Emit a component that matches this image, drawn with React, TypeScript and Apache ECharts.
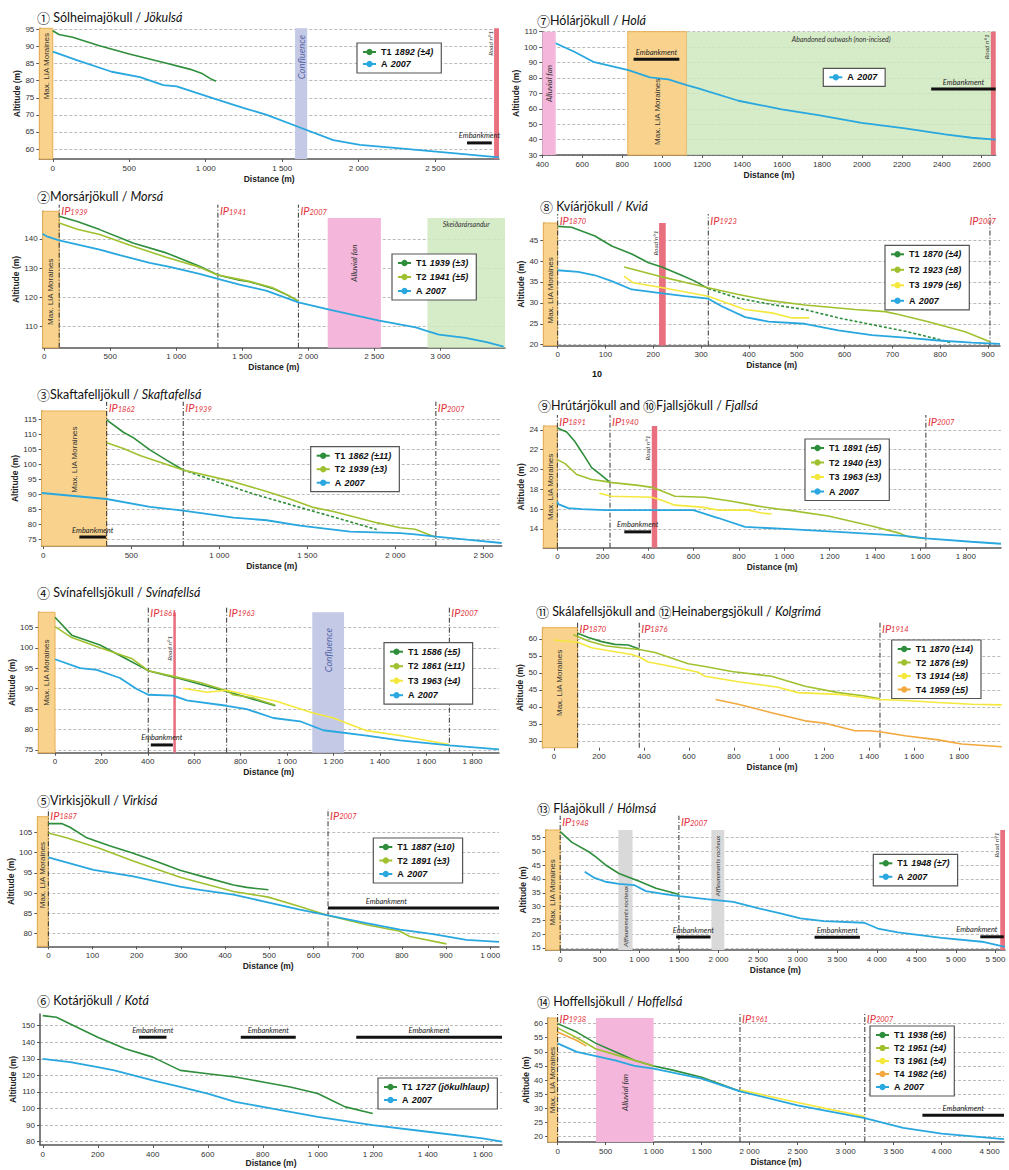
import React, { useEffect, useRef } from "react";
import * as echarts from "echarts";

type Pt = [number, number];
type Band = { kind: string; from: number; to: number; text?: string; top?: number };
type Emb = [number, number, number, number?];
type IP = [number, string];

const COL = { T1: "#2E8E3B", T2: "#A0C12F", T3: "#F5E83C", T4: "#F2A83C", A: "#29A7DF" };

// ---------------- Panel 1 : Sólheimajökull
const p1Title = [["c", "①"], ["t", " Sólheimajökull / "], ["i", "Jökulsá"]];
const p1X = [0, 500, 1000, 1500, 2000, 2500];
const p1Y = [60, 65, 70, 75, 80, 85, 90, 95];
const p1T1: Pt[] = [[0, 94.6], [40, 93.5], [130, 92.7], [300, 90.3], [500, 87.8], [750, 85], [900, 83.3], [980, 82], [1030, 80.6], [1067, 79.8]];
const p1A: Pt[] = [[0, 88.5], [157, 86], [385, 82.6], [570, 81], [723, 78.7], [810, 78.3], [1050, 74.8], [1250, 72], [1399, 70], [1616, 66.3], [1834, 62.6], [2008, 61.2], [2269, 60.2], [2597, 58.9], [2917, 57.6]];
const p1Bands: Band[] = [
  { kind: "lia", from: -88, to: 0, text: "Max. LIA Moraines" },
  { kind: "conf", from: 1584, to: 1663, text: "Confluence" },
  { kind: "road", from: 2885, to: 2917 },
];
const p1Emb: Emb[] = [[2708, 2870, 61.8]];

// ---------------- Panel 2 : Morsárjökull
const p2Title = [["c", "②"], ["t", "Morsárjökull / "], ["i", "Morsá"]];
const p2X = [0, 500, 1000, 1500, 2000, 2500, 3000, 3500];
const p2Y = [110, 120, 130, 140];
const p2T1: Pt[] = [[113, 147.8], [250, 146], [420, 143.2], [672, 138.6], [924, 135.2], [1176, 130.6], [1315, 127.6], [1479, 125.8], [1554, 125.3], [1730, 123], [1850, 120.5], [1925, 118.6]];
const p2T2: Pt[] = [[113, 145.5], [250, 143.3], [420, 141.5], [672, 137.5], [924, 133.7], [1176, 130.3], [1315, 127.6], [1479, 126.1], [1554, 125.4], [1730, 123.2], [1850, 120.6], [1925, 118.6]];
const p2A: Pt[] = [[-12, 141.7], [18, 140.9], [113, 139.5], [420, 136.3], [572, 134.4], [798, 131.8], [950, 130.4], [1176, 128], [1315, 126.3], [1479, 124.3], [1680, 122.2], [1925, 118.2], [2184, 115.4], [2537, 111.9], [2814, 109.6], [2902, 108.3], [2990, 107.1], [3191, 106], [3350, 104.5], [3480, 103]];
const p2Bands: Band[] = [
  { kind: "lia", from: -12, to: 113, text: "Max. LIA Moraines" },
  { kind: "pink", from: 2147, to: 2550, text: "Alluvial fan", top: 147.2 },
  { kind: "green", from: 2903, to: 3490, text: "Skeiðarársandur", top: 147.2 },
];
const p2IP: IP[] = [[113, "1939"], [1315, "1941"], [1925, "2007"]];

// ---------------- Panel 3 : Skaftafellsjökull
const p3Title = [["c", "③"], ["t", "Skaftafelljökull / "], ["i", "Skaftafellsá"]];
const p3X = [0, 500, 1000, 1500, 2000, 2500];
const p3Y = [75, 80, 85, 90, 95, 100, 105, 110, 115];
const p3T1: Pt[] = [[360, 114.8], [455, 110.7], [511, 108.9], [606, 104.8], [700, 101.4], [795, 98.1]];
const p3T1d: Pt[] = [[795, 98.1], [985, 94.2], [1193, 90.1], [1458, 85.6], [1648, 82.4], [1894, 78.2]];
const p3T2: Pt[] = [[360, 107.2], [455, 105.3], [549, 102.9], [795, 98.1], [1080, 94.2], [1269, 90.9], [1402, 88.4], [1534, 85.6], [1648, 84.2], [1894, 80.5], [2027, 78.8], [2112, 78.3], [2230, 75.6]];
const p3A: Pt[] = [[-9, 90.4], [360, 88.4], [606, 85.8], [795, 84.5], [1080, 82.2], [1269, 81.3], [1458, 79.5], [1648, 78.2], [1742, 77.5], [2027, 77], [2112, 76.6], [2230, 75.8], [2406, 74.8], [2604, 73.7]];
const p3Bands: Band[] = [{ kind: "lia", from: -9, to: 360, text: "Max. LIA Moraines" }];
const p3IP: IP[] = [[360, "1862"], [795, "1939"], [2230, "2007"]];
const p3Emb: Emb[] = [[205, 356, 75.7]];

// ---------------- Panel 4 : Svínafellsjökull
const p4Title = [["c", "④"], ["t", " Svínafellsjökull / "], ["i", "Svínafellsá"]];
const p4X = [0, 200, 400, 600, 800, 1000, 1200, 1400, 1600, 1800];
const p4Y = [75, 80, 85, 90, 95, 100, 105];
const p4T1: Pt[] = [[0, 107.5], [72, 103.1], [194, 100.7], [300, 97.5], [402, 94.4], [520, 92.7], [740, 89.3], [800, 88.3], [950, 85.8]];
const p4T2: Pt[] = [[0, 105.2], [72, 102.5], [194, 100], [330, 97.4], [402, 94.4], [510, 93], [625, 91.5], [740, 89.5], [768, 88.5], [855, 87.7], [948, 86]];
const p4T3: Pt[] = [[553, 90.1], [654, 89.1], [740, 89.6], [955, 86.9], [1109, 84.1], [1200, 82.8], [1343, 79.7], [1487, 78.5], [1602, 77.3], [1700, 76.3]];
const p4A: Pt[] = [[0, 97.2], [108, 95], [180, 94.6], [280, 92.6], [352, 89.9], [402, 88.5], [510, 88.3], [568, 87.1], [740, 85.8], [826, 85], [941, 82.8], [1056, 82], [1157, 79.8], [1343, 78.5], [1487, 77.3], [1700, 76.1], [1914, 75.1]];
const p4Bands: Band[] = [
  { kind: "lia", from: -72, to: 0, text: "Max. LIA Moraines" },
  { kind: "conf", from: 1109, to: 1246, text: "Confluence" },
  { kind: "road", from: 510, to: 521 },
];
const p4IP: IP[] = [[402, "1861"], [740, "1963"], [1700, "2007"]];
const p4Emb: Emb[] = [[413, 508, 76.2]];

// ---------------- Panel 5 : Virkisjökull
const p5Title = [["c", "⑤"], ["t", "Virkisjökull / "], ["i", "Virkisá"]];
const p5X = [0, 100, 200, 300, 400, 500, 600, 700, 800, 900, 1000];
const p5Y = [80, 85, 90, 95, 100, 105];
const p5T1: Pt[] = [[0, 107.1], [30, 107.1], [49, 106.2], [87, 103.6], [140, 101.6], [192, 99.8], [245, 97.8], [298, 95.6], [358, 93.8], [419, 92], [449, 91.4], [498, 90.8]];
const p5T2: Pt[] = [[0, 104.8], [41, 103.6], [117, 101], [192, 97.9], [298, 93.9], [419, 90.4], [498, 89], [569, 86.7], [633, 84.5], [720, 82.2], [796, 80.6], [818, 79.3], [901, 77.5]];
const p5A: Pt[] = [[0, 98.8], [102, 95.7], [192, 94.1], [298, 91.6], [343, 90.8], [419, 89.6], [494, 87.8], [569, 85.9], [633, 84.5], [720, 82.6], [796, 81], [871, 79.9], [946, 78.5], [1020, 78]];
const p5Bands: Band[] = [{ kind: "lia", from: -25, to: 0, text: "Max. LIA Moraines" }];
const p5IP: IP[] = [[0, "1887"], [633, "2007"]];
const p5Emb: Emb[] = [[633, 1020, 86.3, 765]];

// ---------------- Panel 6 : Kotárjökull
const p6Title = [["c", "⑥"], ["t", " Kotárjökull / "], ["i", "Kotá"]];
const p6X = [0, 200, 400, 600, 800, 1000, 1200, 1400, 1600];
const p6Y = [80, 90, 100, 110, 120, 130, 140, 150];
const p6T1: Pt[] = [[0, 156], [50, 155], [100, 151], [200, 143], [300, 136], [400, 131], [500, 123], [600, 121], [700, 119], [800, 116], [900, 113], [1000, 109], [1050, 105], [1100, 101], [1200, 97]];
const p6A: Pt[] = [[0, 130], [100, 128], [200, 125], [260, 123], [400, 117], [500, 113], [600, 109], [700, 104], [800, 101], [900, 98], [1000, 95], [1200, 90], [1400, 86], [1600, 82], [1670, 80]];
const p6Emb: Emb[] = [[350, 450, 143], [720, 920, 143], [1140, 1670, 143]];

// ---------------- Panel 7 : Hólárjökull
const p7Title = [["c", "⑦"], ["t", "Hólárjökull / "], ["i", "Holá"]];
const p7X = [400, 600, 800, 1000, 1200, 1400, 1600, 1800, 2000, 2200, 2400, 2600];
const p7Y = [30, 40, 50, 60, 70, 80, 90, 100, 110];
const p7A: Pt[] = [[467, 102.5], [560, 97], [655, 90.5], [831, 85.1], [939, 80.4], [1031, 79.1], [1123, 75.4], [1181, 73.2], [1382, 65.2], [1599, 59.6], [1782, 55.9], [1999, 50.9], [2216, 47.3], [2417, 43.4], [2550, 41.2], [2670, 40]];
const p7Bands: Band[] = [
  { kind: "pink", from: 400, to: 467, text: "Alluvial fan" },
  { kind: "lia", from: 828, to: 1123, text: "Max. LIA Moraines" },
  { kind: "green", from: 1123, to: 2670, text: "Abandoned outwash (non-incised)" },
  { kind: "road", from: 2646, to: 2670 },
];
const p7Emb: Emb[] = [[857, 1086, 92.1], [2347, 2670, 72.8]];

// ---------------- Panel 8 : Kvíárjökull
const p8Title = [["c", "⑧"], ["t", " Kvíárjökull / "], ["i", "Kviá"]];
const p8X = [0, 100, 200, 300, 400, 500, 600, 700, 800, 900];
const p8Y = [20, 25, 30, 35, 40, 45];
const p8T1: Pt[] = [[0, 48.3], [29, 48.1], [78, 46], [113, 43.6], [155, 41.7], [190, 39.6], [218, 38.6], [259, 36.6], [287, 35.2], [315, 33.4]];
const p8T1d: Pt[] = [[315, 33.4], [378, 31.1], [448, 29.6], [517, 28.4], [587, 26.4], [657, 24.8], [727, 23.2], [796, 21.3], [821, 20.5]];
const p8T2: Pt[] = [[139, 38.6], [211, 36.4], [315, 33.6], [378, 32], [441, 30.6], [517, 29.5], [622, 28.4], [685, 27.9], [713, 27.2], [775, 25.5], [852, 23.1], [904, 20.7]];
const p8T3: Pt[] = [[139, 36.4], [158, 34.8], [211, 33.8], [315, 31.6], [392, 28.4], [448, 27.6], [490, 26.4], [526, 26.4]];
const p8A: Pt[] = [[0, 37.8], [43, 37.4], [78, 36.6], [113, 35.2], [155, 33.2], [211, 32.4], [266, 31.6], [315, 31], [343, 29.2], [392, 26.6], [441, 25.5], [517, 25], [587, 23.4], [657, 22.3], [727, 21.7], [796, 21], [866, 20.5], [925, 20.2]];
const p8Bands: Band[] = [
  { kind: "lia", from: -30, to: 0, text: "Max. LIA Moraines" },
  { kind: "road", from: 212, to: 226 },
];
const p8IP: IP[] = [[0, "1870"], [315, "1923"], [904, "2007"]];

// ---------------- Panel 9/10 : Hrútárjökull & Fjallsjökull
const p9Title = [["c", "⑨"], ["t", "Hrútárjökull and "], ["c", "⑩"], ["t", "Fjallsjökull / "], ["i", "Fjallsá"]];
const p9X = [0, 200, 400, 600, 800, 1000, 1200, 1400, 1600, 1800];
const p9Y = [14, 16, 18, 20, 22, 24];
const p9T1: Pt[] = [[0, 24.2], [41, 23.8], [78, 22.8], [115, 21.5], [151, 20.2], [195, 19.4], [232, 18.7]];
const p9T2: Pt[] = [[0, 21], [34, 20.6], [85, 19.5], [151, 19], [210, 18.8], [232, 18.7], [357, 18.4], [416, 18.2], [452, 17.9], [518, 17.3], [651, 17.2], [768, 16.8], [885, 16.3], [974, 16], [1018, 15.9], [1194, 15.3], [1385, 14.3], [1502, 13.6], [1546, 13.2], [1624, 13]];
const p9T3: Pt[] = [[185, 17.6], [239, 17.3], [416, 17.2], [460, 16.9], [518, 16.4], [636, 16.2], [709, 15.9], [842, 15.9], [900, 15.6], [944, 15.5]];
const p9A: Pt[] = [[0, 16.8], [4, 16.5], [48, 16.1], [107, 16], [210, 15.9], [599, 15.9], [709, 15.1], [827, 14.2], [1003, 14], [1236, 13.7], [1530, 13.3], [1624, 13.05], [1824, 12.7], [1955, 12.5]];
const p9Bands: Band[] = [
  { kind: "lia", from: -62, to: 0, text: "Max. LIA Moraines" },
  { kind: "road", from: 416, to: 440 },
];
const p9IP: IP[] = [[0, "1891"], [232, "1940"], [1624, "2007"]];
const p9Emb: Emb[] = [[295, 413, 13.7]];

// ---------------- Panel 11/12 : Skálafellsjökull & Heinabergsjökull
const p11Title = [["c", "⑪"], ["t", " Skálafellsjökull and "], ["c", "⑫"], ["t", "Heinabergsjökull / "], ["i", "Kolgrimá"]];
const p11X = [0, 200, 400, 600, 800, 1000, 1200, 1400, 1600, 1800];
const p11Y = [30, 35, 40, 45, 50, 55, 60];
const p11T1: Pt[] = [[105, 61.7], [153, 60.4], [212, 59.2], [271, 58.4], [330, 58.2], [379, 57]];
const p11T2: Pt[] = [[86, 61.2], [153, 59.4], [227, 58], [301, 57.4], [379, 56.9], [449, 56], [597, 52.7], [671, 51.9], [790, 50.4], [967, 49], [1116, 46.1], [1264, 44.2], [1382, 43.2], [1449, 42.4]];
const p11T3: Pt[] = [[0, 59.7], [105, 59], [167, 57.4], [345, 55.4], [379, 54.7], [419, 53.2], [523, 51.9], [641, 50.2], [671, 49], [819, 47.4], [996, 45.8], [1084, 44.2], [1262, 43.7], [1449, 42.2], [1560, 41.9], [1708, 41.3], [1856, 40.8], [1990, 40.6]];
const p11T4: Pt[] = [[718, 42.2], [819, 40.8], [967, 38.3], [1116, 35.9], [1205, 35.2], [1338, 33], [1397, 33], [1449, 32.7], [1560, 31.5], [1708, 30.3], [1812, 29.1], [1990, 28.3]];
const p11Bands: Band[] = [{ kind: "lia", from: -52, to: 105, text: "Max. LIA Moraines" }];
const p11IP: IP[] = [[105, "1870"], [379, "1876"], [1449, "1914"]];

// ---------------- Panel 13 : Fláajökull
const p13Title = [["c", "⑬"], ["t", " Fláajökull / "], ["i", "Hólmsá"]];
const p13X = [0, 500, 1000, 1500, 2000, 2500, 3000, 3500, 4000, 4500, 5000, 5500];
const p13Y = [15, 20, 25, 30, 35, 40, 45, 50, 55];
const p13T1: Pt[] = [[0, 57.2], [149, 53.3], [361, 49.9], [446, 48.1], [573, 45.1], [743, 42], [998, 39.2], [1210, 36.6], [1507, 34.4]];
const p13A: Pt[] = [[310, 42.6], [425, 40.5], [573, 39], [743, 38.2], [934, 37.8], [1083, 35.6], [1338, 34.4], [1507, 33.8], [1847, 32.7], [2187, 31.7], [2484, 29.5], [2781, 27.5], [3036, 25.7], [3333, 24.7], [3843, 24.1], [4013, 22], [4268, 20.6], [4820, 18.6], [5329, 17.2], [5620, 15.3]];
const p13Bands: Band[] = [
  { kind: "lia", from: -183, to: 0, text: "Max. LIA Moraines" },
  { kind: "gray", from: 735, to: 914, text: "Affleurements rocheux" },
  { kind: "gray", from: 1911, to: 2073, text: "Affleurements rocheux" },
  { kind: "road", from: 5560, to: 5620 },
];
const p13IP: IP[] = [[0, "1948"], [1500, "2007"]];
const p13Emb: Emb[] = [[1465, 1900, 18.9], [3214, 3787, 18.8], [5308, 5605, 19, 5265]];

// ---------------- Panel 14 : Hoffellsjökull
const p14Title = [["c", "⑭"], ["t", " Hoffellsjökull / "], ["i", "Hoffellsá"]];
const p14X = [0, 500, 1000, 1500, 2000, 2500, 3000, 3500, 4000, 4500];
const p14Y = [20, 25, 30, 35, 40, 45, 50, 55, 60];
const p14T1: Pt[] = [[0, 60], [200, 57], [400, 53], [600, 50], [800, 47], [1000, 45], [1200, 43.5], [1500, 41], [1900, 36]];
const p14T2: Pt[] = [[0, 58.5], [200, 55], [400, 51], [600, 49], [1000, 45]];
const p14T3: Pt[] = [[1900, 36.5], [2500, 32], [3200, 27]];
const p14T4: Pt[] = [[0, 57], [200, 54], [300, 52]];
const p14A: Pt[] = [[0, 53], [200, 50], [400, 48.5], [600, 47], [800, 45], [1000, 44], [1500, 40.5], [1900, 36], [2500, 31], [3200, 26.5], [3600, 23], [4000, 21], [4650, 19]];
const p14Bands: Band[] = [
  { kind: "lia", from: -100, to: 0, text: "Max. LIA Moraines" },
  { kind: "pink", from: 400, to: 1000, text: "Alluvial fan" },
];
const p14IP: IP[] = [[0, "1938"], [1900, "1961"], [3200, "2007"]];
const p14Emb: Emb[] = [[3800, 4650, 27.5]];

// ---------------- layout (pixels) ----------------
type S = { name: string; data: Pt[]; c: string; dash?: boolean; noLegend?: boolean };
interface Panel {
  title: string[][]; tx: number; ty: number; g: number[]; x: number[]; y: number[];
  xt: number[]; yt: number[]; series: S[]; bands: Band[]; bandTy: number[];
  ips: IP[]; ipY: number; emb: Emb[]; roadTy: number; legend: number[]; plainX?: boolean; noXLine?: boolean; nameGap?: number;
}

const PANELS: Panel[] = [
  { title: p1Title, tx: 37, ty: 17, g: [39.3, 28.3, 459.7, 130.7], x: [-88, 2917], y: [57.1, 95.3], xt: p1X, yt: p1Y,
    series: [{ name: "T1 1892 (±4)", data: p1T1, c: COL.T1 }, { name: "A 2007", data: p1A, c: COL.A }],
    bands: p1Bands, bandTy: [0.29, 0.22, 0], ips: [], ipY: 0, emb: p1Emb, roadTy: 15, legend: [357, 43, 0] },
  { title: p2Title, tx: 37, ty: 196, g: [42.7, 211.3, 462.3, 136.4], x: [-12, 3490], y: [102.6, 149.5], xt: p2X, yt: p2Y,
    series: [{ name: "T1 1939 (±3)", data: p2T1, c: COL.T1 }, { name: "T2 1941 (±5)", data: p2T2, c: COL.T2 }, { name: "A 2007", data: p2A, c: COL.A }],
    bands: p2Bands, bandTy: [0.59, 0.38, 0.09], ips: p2IP, ipY: 210.7, emb: [], roadTy: 15, legend: [392, 254, 2] },
  { title: p3Title, tx: 37, ty: 394.3, g: [41.7, 411, 460, 135], x: [-9, 2604], y: [72.7, 117.8], xt: p3X, yt: p3Y,
    series: [{ name: "T1 1862 (±11)", data: p3T1, c: COL.T1 }, { name: "T1d3", data: p3T1d, c: COL.T1, dash: true, noLegend: true }, { name: "T2 1939 (±3)", data: p3T2, c: COL.T2 }, { name: "A 2007", data: p3A, c: COL.A }],
    bands: p3Bands, bandTy: [0.36], ips: p3IP, ipY: 407.7, emb: p3Emb, roadTy: 15, legend: [310.7, 446.7, 1.5] },
  { title: p4Title, tx: 37, ty: 592.7, g: [38.3, 612.3, 460.7, 140.4], x: [-72, 1914], y: [74.3, 108.7], xt: p4X, yt: p4Y,
    series: [{ name: "T1 1586 (±5)", data: p4T1, c: COL.T1 }, { name: "T2 1861 (±11)", data: p4T2, c: COL.T2 }, { name: "T3 1963 (±4)", data: p4T3, c: COL.T3 }, { name: "A 2007", data: p4A, c: COL.A }],
    bands: p4Bands, bandTy: [0.43, 0.27, 0], ips: p4IP, ipY: 612.3, emb: p4Emb, roadTy: 36, legend: [384, 642.7, 2.5] },
  { title: p5Title, tx: 37, ty: 800, g: [37.3, 816.7, 461.7, 129.6], x: [-25, 1020], y: [76.9, 108.8], xt: p5X, yt: p5Y,
    series: [{ name: "T1 1887 (±10)", data: p5T1, c: COL.T1 }, { name: "T2 1891 (±3)", data: p5T2, c: COL.T2 }, { name: "A 2007", data: p5A, c: COL.A }],
    bands: p5Bands, bandTy: [0.45], ips: p5IP, ipY: 815, emb: p5Emb, roadTy: 15, legend: [373.3, 838, 1.5] },
  { title: p6Title, tx: 37, ty: 1000, g: [40, 1014, 462, 131], x: [-10, 1670], y: [78, 157], xt: p6X, yt: p6Y,
    series: [{ name: "T1 1727 (jökulhlaup)", data: p6T1, c: COL.T1 }, { name: "A 2007", data: p6A, c: COL.A }],
    bands: [], bandTy: [], ips: [], ipY: 0, emb: p6Emb, roadTy: 15, legend: [378, 1078, 1], nameGap: 13 },
  { title: p7Title, tx: 537, ty: 20, g: [542.3, 31.7, 453.4, 123.3], x: [400, 2670], y: [30, 110], xt: p7X, yt: p7Y,
    series: [{ name: "A 2007", data: p7A, c: COL.A }],
    bands: p7Bands, bandTy: [0.42, 0.65, 0.06, 0], ips: [], ipY: 0, emb: p7Emb, roadTy: 15, legend: [823.3, 68.3, 0], plainX: true },
  { title: p8Title, tx: 540, ty: 206.5, g: [543.3, 223, 456.7, 122.5], x: [-30, 925], y: [19.8, 49.1], xt: p8X, yt: p8Y,
    series: [{ name: "T1 1870 (±4)", data: p8T1, c: COL.T1 }, { name: "T1d8", data: p8T1d, c: COL.T1, dash: true, noLegend: true }, { name: "T2 1923 (±8)", data: p8T2, c: COL.T2 }, { name: "T3 1979 (±6)", data: p8T3, c: COL.T3 }, { name: "A 2007", data: p8A, c: COL.A }],
    bands: p8Bands, bandTy: [0.55, 0], ips: p8IP, ipY: 220, emb: [], roadTy: 20, legend: [885, 245.3, 3.5] },
  { title: p9Title, tx: 538, ty: 405, g: [543.3, 426, 457.7, 121.7], x: [-62, 1955], y: [12.1, 24.4], xt: p9X, yt: p9Y,
    series: [{ name: "T1 1891 (±5)", data: p9T1, c: COL.T1 }, { name: "T2 1940 (±3)", data: p9T2, c: COL.T2 }, { name: "T3 1963 (±3)", data: p9T3, c: COL.T3 }, { name: "A 2007", data: p9A, c: COL.A }],
    bands: p9Bands, bandTy: [0.5, 0], ips: p9IP, ipY: 421, emb: p9Emb, roadTy: 22, legend: [805, 439, 2.5] },
  { title: p11Title, tx: 536, ty: 611.7, g: [542.3, 627.7, 459.4, 120], x: [-52, 1990], y: [28, 63.3], xt: p11X, yt: p11Y,
    series: [{ name: "T1 1870 (±14)", data: p11T1, c: COL.T1 }, { name: "T2 1876 (±9)", data: p11T2, c: COL.T2 }, { name: "T3 1914 (±8)", data: p11T3, c: COL.T3 }, { name: "T4 1959 (±5)", data: p11T4, c: COL.T4 }],
    bands: p11Bands, bandTy: [0.46], ips: p11IP, ipY: 628.3, emb: [], roadTy: 15, legend: [891.7, 640, 1.5], noXLine: true },
  { title: p13Title, tx: 537, ty: 808.3, g: [545.7, 830, 459.3, 120], x: [-183, 5620], y: [14.2, 57.8], xt: p13X, yt: p13Y,
    series: [{ name: "T1 1948 (±7)", data: p13T1, c: COL.T1 }, { name: "A 2007", data: p13A, c: COL.A }],
    bands: p13Bands, bandTy: [0.52, 0.72, 0.3, 0], ips: p13IP, ipY: 821.7, emb: p13Emb, roadTy: 15, legend: [873.3, 854.3, 1.5] },
  { title: p14Title, tx: 537, ty: 1001, g: [548, 1018, 456, 124], x: [-100, 4650], y: [18, 62], xt: p14X, yt: p14Y,
    series: [{ name: "T1 1938 (±6)", data: p14T1, c: COL.T1 }, { name: "T2 1951 (±4)", data: p14T2, c: COL.T2 }, { name: "T3 1961 (±4)", data: p14T3, c: COL.T3 }, { name: "T4 1982 (±6)", data: p14T4, c: COL.T4 }, { name: "A 2007", data: p14A, c: COL.A }],
    bands: p14Bands, bandTy: [0.5, 0.6], ips: p14IP, ipY: 1018, emb: p14Emb, roadTy: 15, legend: [870, 1026, 1] },
];

const BAND_STYLE: Record<string, any> = {
  lia: { color: "#F9D38D", borderColor: "#E8AE52", borderWidth: 1 },
  pink: { color: "#F4B6DA" },
  green: { color: "rgba(207,232,190,0.85)" },
  conf: { color: "#C4C9E5" },
  gray: { color: "#D9D9D9" },
  road: { color: "#E9707E" },
};
const BAND_TEXT: Record<string, any> = {
  lia: { fontSize: 8, fontStyle: "normal", fill: "#333" },
  pink: { fontSize: 8, fontStyle: "italic", fill: "#333" },
  conf: { fontSize: 9.5, fontStyle: "italic", fill: "#5565A8" },
  gray: { fontSize: 6.5, fontStyle: "italic", fill: "#333" },
  green: { fontSize: 7, fontStyle: "italic", fill: "#333" },
};

const FONT = "Liberation Sans, Arial, sans-serif";
const TFONT = "Lato, 'Open Sans', sans-serif";

const fmtSp = (v: number) => {
  const s = String(v);
  return s.length > 3 ? s.slice(0, s.length - 3) + " " + s.slice(-3) : s;
};
const legendFmt = (name: string) => {
  const k = name.indexOf(" ");
  return "{b|" + name.slice(0, k) + "} {i|" + name.slice(k + 1) + "}";
};

export default function App() {
  const ref = useRef<HTMLDivElement>(null);
  useEffect(() => {
    const chart = echarts.init(ref.current!, null, { renderer: "svg" });
    const grid: any[] = [], xAxis: any[] = [], yAxis: any[] = [], series: any[] = [], legend: any[] = [];
    PANELS.forEach((p, i) => {
      grid.push({ left: p.g[0], top: p.g[1], width: p.g[2], height: p.g[3], containLabel: false, outerBoundsMode: "none" });
      xAxis.push({
        type: "value", gridIndex: i, min: p.x[0], max: p.x[1],
        axisLine: { show: !p.noXLine, onZero: false, lineStyle: { color: "#555", width: 1.5 } },
        axisTick: { show: true, customValues: p.xt, length: 3, lineStyle: { color: "#555" } },
        axisLabel: { customValues: p.xt, formatter: p.plainX ? (v: number) => String(v) : fmtSp, fontSize: 8, color: "#333", margin: 5, fontFamily: FONT, showMinLabel: true, showMaxLabel: true, hideOverlap: false },
        splitLine: { show: false },
        name: "Distance (m)", nameLocation: "middle", nameGap: p.nameGap ?? 15,
        nameTextStyle: { fontWeight: "bold", fontSize: 8.5, color: "#222", fontFamily: FONT },
      });
      yAxis.push({
        type: "value", gridIndex: i, min: p.y[0], max: p.y[1],
        axisLine: { show: true, onZero: false, lineStyle: { color: "#555", width: 1.5 } },
        axisTick: { show: true, customValues: p.yt, length: 3, lineStyle: { color: "#555" } },
        axisLabel: { customValues: p.yt, fontSize: 8, color: "#333", margin: 5, fontFamily: FONT, hideOverlap: false },
        splitLine: { show: true, lineStyle: { type: [3, 2], color: "#BBBBBB", width: 1 } },
        name: "Altitude (m)", nameLocation: "middle", nameGap: 17, nameRotate: 90,
        nameTextStyle: { fontWeight: "bold", fontSize: 8.5, color: "#222", fontFamily: FONT },
      });
      series.push({
        type: "line", name: "_bands" + i, xAxisIndex: i, yAxisIndex: i, data: [[p.x[0], p.y[0]]],
        symbol: "none", lineStyle: { opacity: 0 }, silent: true, z: 1,
        markArea: {
          silent: true,
          data: p.bands.map((b) => [
            { xAxis: b.from, yAxis: b.top ?? p.y[1], itemStyle: BAND_STYLE[b.kind] },
            { xAxis: b.to, yAxis: p.y[0] },
          ]),
        },
      });
      p.series.forEach((s) => {
        series.push({
          type: "line", name: s.name, xAxisIndex: i, yAxisIndex: i, data: s.data,
          symbol: "none", showSymbol: false, silent: true, z: 4,
          lineStyle: { color: s.c, width: s.c === COL.A ? 1.8 : 1.6, type: s.dash ? [3, 2] : "solid" },
          itemStyle: { color: s.c },
          emphasis: { disabled: true },
        });
      });
      legend.push({
        left: p.legend[0], top: p.legend[1], orient: "vertical", itemGap: p.legend[2],
        itemWidth: 13, itemHeight: 8, padding: [3, 8, 3, 5],
        borderColor: "#555", borderWidth: 1.2, backgroundColor: "#fff", selectedMode: false,
        data: p.series.filter((s) => !s.noLegend).map((s) => s.name),
        formatter: legendFmt,
        textStyle: {
          rich: {
            b: { fontFamily: FONT, fontWeight: "bold", fontSize: 9, color: "#111", lineHeight: 10 },
            i: { fontFamily: FONT, fontWeight: "bold", fontStyle: "italic", fontSize: 9, color: "#111", lineHeight: 10 },
          },
        },
      });
    });
    chart.setOption({ animation: false, backgroundColor: "#fff", grid, xAxis, yAxis, series, legend });

    const gfx: any[] = [];
    const TITLE_RICH = {
      c: { fontFamily: "Noto Sans CJK SC", fontSize: 13, fill: "#111" },
      t: { fontFamily: TFONT, fontSize: 12.5, fill: "#111" },
      i: { fontFamily: TFONT, fontSize: 12.5, fontStyle: "italic", fill: "#111" },
    };
    PANELS.forEach((p, i) => {
      const P = (x: number, y: number) => chart.convertToPixel({ gridIndex: i } as any, [x, y]) as number[];
      const top = p.g[1], h = p.g[3];
      gfx.push({ type: "text", x: p.tx, y: p.ty, z: 10, silent: true,
        style: { text: p.title.map(([k, t]) => "{" + k + "|" + t + "}").join(""), rich: TITLE_RICH, verticalAlign: "middle" } });
      p.bands.forEach((b, j) => {
        const a = P(b.from, p.y[0]), c = P(b.to, p.y[0]);
        const cx = (a[0] + c[0]) / 2;
        if (b.kind === "road") {
          gfx.push({ type: "text", x: a[0] - 4, y: top + p.roadTy, rotation: Math.PI / 2, z: 10, silent: true,
            style: { text: "Road n°1", fontSize: 6.5, fontStyle: "italic", fontFamily: TFONT, fill: "#444", align: "center", verticalAlign: "middle" } });
          return;
        }
        if (!b.text) return;
        const st = BAND_TEXT[b.kind];
        const cy = top + p.bandTy[j] * h;
        if (b.kind === "green") {
          gfx.push({ type: "text", x: cx, y: cy, z: 10, silent: true,
            style: { text: b.text, fontFamily: TFONT, ...st, align: "center", verticalAlign: "middle" } });
        } else {
          gfx.push({ type: "text", x: cx, y: cy, rotation: Math.PI / 2, z: 10, silent: true,
            style: { text: b.text, fontFamily: b.kind === "lia" ? FONT : TFONT, ...st, align: "center", verticalAlign: "middle" } });
        }
      });
      p.ips.forEach(([x, yr]) => {
        const b = P(x, p.y[0]);
        gfx.push({ type: "line", z: 3, silent: true, shape: { x1: b[0], y1: b[1], x2: b[0], y2: p.ipY - 6 },
          style: { stroke: "#333", lineWidth: 1, lineDash: [5, 2, 1, 2] } });
        const nearRight = b[0] > 975;
        gfx.push({ type: "text", x: nearRight ? b[0] + 6 : b[0] + 2, y: p.ipY, z: 10, silent: true,
          style: {
            text: "{a|IP}{s|" + yr + "}", align: nearRight ? "right" : "left", verticalAlign: "middle",
            rich: {
              a: { fontFamily: TFONT, fontSize: 11, fontStyle: "italic", fill: "#E2343E", verticalAlign: "bottom" },
              s: { fontFamily: TFONT, fontSize: 7.5, fontStyle: "italic", fill: "#E2343E", verticalAlign: "bottom" },
            },
          } });
      });
      p.emb.forEach((e) => {
        const a = P(e[0], e[2]), c = P(e[1], e[2]);
        gfx.push({ type: "line", z: 6, silent: true, shape: { x1: a[0], y1: a[1], x2: c[0], y2: c[1] },
          style: { stroke: "#111", lineWidth: 3 } });
        const lx = e[3] !== undefined ? P(e[3] as number, e[2])[0] : (a[0] + c[0]) / 2;
        gfx.push({ type: "text", x: lx, y: a[1] - 3, z: 10, silent: true,
          style: { text: "Embankment", fontFamily: TFONT, fontSize: 7.5, fontStyle: "italic", fill: "#222", align: "center", verticalAlign: "bottom" } });
      });
    });
    gfx.push({ type: "text", x: 597, y: 374, z: 10, silent: true,
      style: { text: "10", fontFamily: FONT, fontSize: 9, fontWeight: "bold", fill: "#111", align: "center", verticalAlign: "middle" } });
    chart.setOption({ graphic: gfx });
    return () => chart.dispose();
  }, []);
  return <div ref={ref} style={{ position: "absolute", left: 0, top: 0, width: 1009, height: 1170, background: "#fff" }} />;
}
